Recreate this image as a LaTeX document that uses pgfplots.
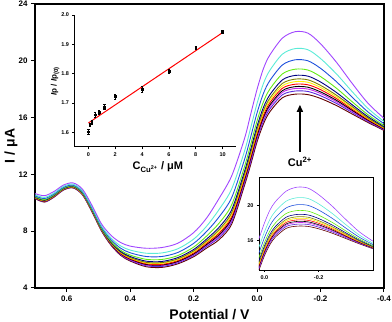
\documentclass[border=0pt]{standalone}
\usepackage{fontspec}
\setmainfont{Liberation Sans}
\usepackage{pgfplots}
\pgfplotsset{compat=1.18}
\usepackage{pgfplotstable}
\usetikzlibrary{arrows.meta}

\definecolor{dpvP}{RGB}{160,70,255}
\definecolor{dpvC}{RGB}{90,235,215}
\definecolor{dpvB}{RGB}{30,80,220}
\definecolor{dpvG}{RGB}{100,235,20}
\definecolor{dpvN}{RGB}{0,0,128}
\definecolor{dpvO}{RGB}{128,128,0}
\definecolor{dpvY}{RGB}{255,240,0}
\definecolor{dpvR}{RGB}{255,0,0}
\definecolor{dpvK}{RGB}{0,0,0}
\definecolor{dpvM}{RGB}{200,40,235}
\definecolor{dpvV}{RGB}{90,40,220}
\definecolor{dpvW}{RGB}{100,0,0}

% DPV curves, one column per Cu2+ level (p = highest ... w = lowest)
\pgfplotstableread{
x     p     c     b     g     n     o     y     r     k     m     v     w
0.70  10.65 10.56 10.49 10.44 10.41 10.38 10.37 10.36 10.34 10.33 10.32 10.30
0.67  10.50 10.38 10.30 10.23 10.19 10.16 10.14 10.12 10.10 10.09 10.07 10.05
0.64  10.80 10.69 10.62 10.56 10.52 10.50 10.48 10.46 10.45 10.44 10.42 10.40
0.61  11.25 11.16 11.09 11.04 11.01 10.98 10.97 10.96 10.94 10.93 10.92 10.90
0.58  11.40 11.31 11.24 11.19 11.16 11.13 11.12 11.11 11.09 11.08 11.07 11.05
0.55  10.95 10.84 10.77 10.71 10.67 10.65 10.63 10.61 10.60 10.59 10.57 10.55
0.52  9.80  9.68  9.60  9.53  9.49  9.46  9.44  9.42  9.40  9.39  9.37  9.35
0.49  8.50  8.37  8.28  8.20  8.15  8.12  8.10  8.08  8.06  8.05  8.03  8.00
0.46  7.70  7.51  7.39  7.28  7.21  7.17  7.14  7.11  7.08  7.06  7.04  7.00
0.43  7.20  6.96  6.80  6.66  6.57  6.52  6.48  6.44  6.41  6.38  6.35  6.30
0.40  6.95  6.67  6.48  6.32  6.22  6.15  6.11  6.07  6.03  5.99  5.95  5.90
0.35  6.80  6.45  6.22  6.02  5.89  5.81  5.76  5.71  5.66  5.62  5.57  5.50
0.30  6.85  6.47  6.22  6.01  5.87  5.79  5.73  5.67  5.62  5.58  5.52  5.45
0.25  7.15  6.76  6.50  6.28  6.14  6.05  5.99  5.93  5.87  5.83  5.77  5.70
0.20  7.90  7.44  7.14  6.88  6.71  6.61  6.54  6.47  6.40  6.35  6.29  6.20
0.16  8.90  8.33  7.96  7.64  7.43  7.30  7.22  7.14  7.05  6.99  6.91  6.80
0.12  10.30 9.52  9.00  8.56  8.27  8.10  7.98  7.86  7.75  7.66  7.55  7.40
0.08  11.90 10.98 10.37 9.86  9.52  9.32  9.18  9.04  8.91  8.81  8.67  8.50
0.04  14.50 13.61 13.02 12.52 12.19 11.99 11.86 11.73 11.60 11.50 11.37 11.20
0.02  16.25 15.29 14.65 14.12 13.77 13.55 13.41 13.27 13.13 13.02 12.88 12.70
0.00  18.00 17.00 16.34 15.78 15.41 15.19 15.04 14.89 14.74 14.63 14.49 14.30
-0.02 19.45 18.40 17.70 17.11 16.72 16.49 16.33 16.17 16.02 15.90 15.75 15.55
-0.04 20.40 19.32 18.60 18.00 17.60 17.36 17.20 17.04 16.88 16.76 16.60 16.40
-0.08 21.60 20.47 19.71 19.08 18.66 18.41 18.24 18.07 17.90 17.78 17.61 17.40
-0.12 22.05 20.86 20.07 19.41 18.97 18.71 18.53 18.35 18.18 18.05 17.87 17.65
-0.16 21.95 20.78 20.00 19.35 18.92 18.66 18.49 18.31 18.14 18.01 17.84 17.62
-0.20 21.20 20.16 19.47 18.89 18.51 18.27 18.12 17.97 17.81 17.70 17.54 17.35
-0.25 19.90 19.08 18.53 18.07 17.77 17.58 17.46 17.34 17.22 17.12 17.00 16.85
-0.30 18.40 17.82 17.43 17.11 16.90 16.77 16.68 16.59 16.51 16.44 16.36 16.25
-0.35 17.00 16.64 16.39 16.19 16.06 15.97 15.92 15.87 15.81 15.77 15.72 15.65
-0.40 15.95 15.72 15.57 15.44 15.36 15.30 15.27 15.24 15.20 15.18 15.14 15.10
}\dpv

% calibration: Ip/Ip(0) vs C
\pgfplotstableread{
c     r      e
0     1.602  0.008
0.1   1.626  0.006
0.25  1.635  0.006
0.5   1.660  0.010
0.8   1.668  0.008
1.2   1.687  0.008
2     1.722  0.008
4     1.748  0.010
6     1.808  0.008
8     1.888  0.006
10    1.942  0.006
}\ratio

\newcommand{\dpvcurves}{%
  \addplot[color=dpvW] table[x=x,y=w]{\dpv};
  \addplot[color=dpvV] table[x=x,y=v]{\dpv};
  \addplot[color=dpvM] table[x=x,y=m]{\dpv};
  \addplot[color=dpvK] table[x=x,y=k]{\dpv};
  \addplot[color=dpvR] table[x=x,y=r]{\dpv};
  \addplot[color=dpvY] table[x=x,y=y]{\dpv};
  \addplot[color=dpvO] table[x=x,y=o]{\dpv};
  \addplot[color=dpvN] table[x=x,y=n]{\dpv};
  \addplot[color=dpvG] table[x=x,y=g]{\dpv};
  \addplot[color=dpvB] table[x=x,y=b]{\dpv};
  \addplot[color=dpvC] table[x=x,y=c]{\dpv};
  \addplot[color=dpvP] table[x=x,y=p]{\dpv};
}

\begin{document}
\begin{tikzpicture}
\begin{axis}[
  name=main,
  scale only axis, width=349pt, height=284pt,
  x dir=reverse,
  xmin=-0.4, xmax=0.7, ymin=4, ymax=24,
  xtick={0.6,0.4,0.2,0,-0.2,-0.4},
  ytick={4,8,12,16,20,24},
  xticklabel style={/pgf/number format/.cd, fixed, fixed zerofill, precision=1},
  /pgf/number format/assume math mode=true,
  tick label style={font=\fontsize{8}{9}\selectfont\bfseries},
  xtick pos=bottom, ytick pos=left,
  tick align=outside, major tick length=4pt,
  every tick/.style={black, line width=1pt},
  axis line style={line width=1.5pt},
  xlabel={Potential / V}, ylabel={I / μA},
  label style={font=\fontsize{14}{16}\selectfont\bfseries},
  xlabel style={at={(axis description cs:0.5,-0.095)}, anchor=center},
  ylabel style={at={(axis description cs:-0.069,0.5)}, anchor=center},
  every axis plot/.append style={line width=0.9pt, smooth, no markers},
]
  \dpvcurves
  \draw[-{Triangle[length=7pt,width=6pt]}, line width=1.4pt]
    (axis cs:-0.135,13.6) -- (axis cs:-0.135,16.9);
  \node[font=\fontsize{11}{12}\selectfont\bfseries] at (axis cs:-0.135,12.85)
    {Cu\textsuperscript{2+}};
\end{axis}

% calibration inset
\begin{axis}[
  at={(40pt,141pt)}, anchor=south west,
  scale only axis, width=161pt, height=132pt,
  xmin=-1, xmax=11, ymin=1.55, ymax=2.0,
  axis x line*=bottom, axis y line*=left,
  xtick={0,2,4,6,8,10}, ytick={1.6,1.7,1.8,1.9,2.0},
  yticklabel style={/pgf/number format/.cd, fixed, fixed zerofill, precision=1},
  /pgf/number format/assume math mode=true,
  tick label style={font=\fontsize{5.5}{6}\selectfont\bfseries},
  tick align=outside, major tick length=2.5pt,
  every tick/.style={black, line width=0.7pt},
  axis line style={line width=1pt},
  xlabel={C\textsubscript{Cu\textsuperscript{2+}} / μM},
  ylabel={\textit{I}p / \textit{I}p\textsubscript{(0)}},
  xlabel style={font=\fontsize{11}{12}\selectfont\bfseries, at={(axis description cs:0.515,-0.15)}, anchor=center},
  ylabel style={font=\fontsize{8}{9}\selectfont\bfseries, at={(axis description cs:-0.124,0.5)}, anchor=center},
]
  \addplot[red, line width=1pt, no markers] coordinates {(0,1.632) (10,1.940)};
  \addplot[only marks, mark=square*, mark size=0.9pt, black,
    error bars/.cd, y dir=both, y explicit,
    error bar style={line width=0.6pt},
    error mark options={rotate=90, mark size=1.2pt, line width=0.6pt}]
    table[x=c, y=r, y error=e]{\ratio};
\end{axis}

% zoomed peak inset
\begin{axis}[
  at={(224pt,18pt)}, anchor=south west,
  scale only axis, width=114pt, height=93pt,
  x dir=reverse,
  xmin=-0.4, xmax=0.02, ymin=12.7, ymax=23.2,
  xtick={0,-0.2}, ytick={16,20},
  xticklabel style={/pgf/number format/.cd, fixed, fixed zerofill, precision=1},
  /pgf/number format/assume math mode=true,
  tick label style={font=\fontsize{5.5}{6}\selectfont\bfseries},
  xtick pos=bottom, ytick pos=left,
  tick align=outside, major tick length=2pt,
  every tick/.style={black, line width=0.6pt},
  axis line style={line width=0.7pt},
  every axis plot/.append style={line width=0.6pt, smooth, no markers},
]
  \dpvcurves
\end{axis}

\pgfresetboundingbox
\path (-35pt,-34pt) rectangle (357pt,288pt);
\end{tikzpicture}
\end{document}
